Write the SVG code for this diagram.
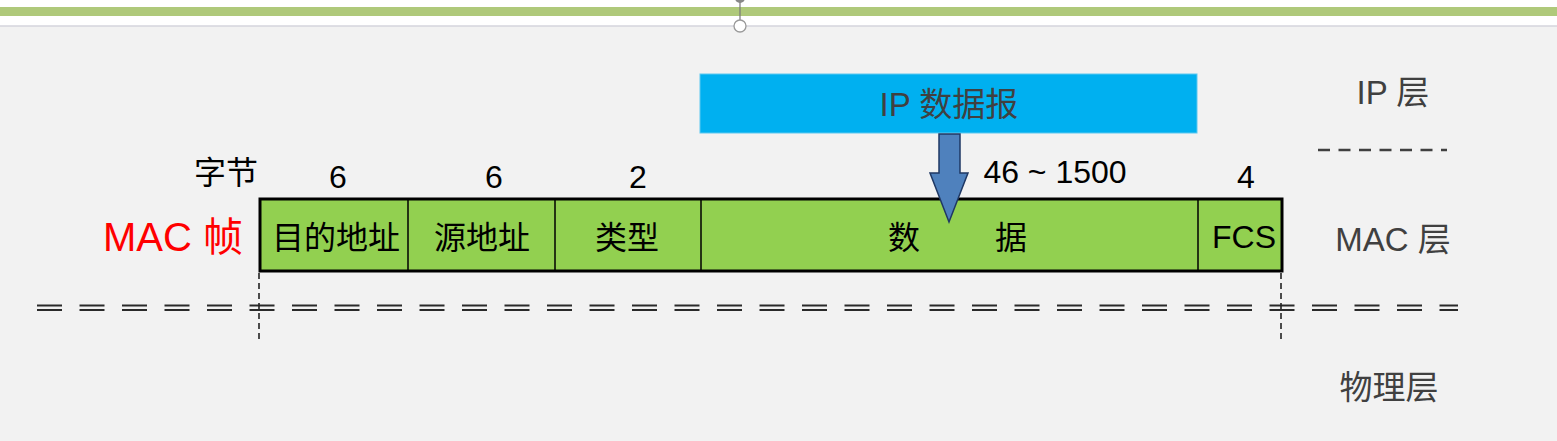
<svg xmlns="http://www.w3.org/2000/svg" width="1557" height="441" viewBox="0 0 1557 441">
  <style>
    .t { font-family: "Liberation Sans", "Noto Sans CJK SC", sans-serif; }
    .lbl { font-size: 32px; fill: #000; text-anchor: middle; }
    .layer { font-size: 33px; fill: #404040; text-anchor: middle; }
    .div { stroke: #000; stroke-width: 1.5; }
    .vdash { stroke: #222; stroke-width: 1.6; stroke-dasharray: 6 4; fill: none; }
  </style>
  <rect x="0" y="0" width="1557" height="441" fill="#f2f2f2"/>
  <rect x="0" y="0" width="1557" height="26" fill="#ffffff"/>
  <rect x="0" y="7" width="1557" height="9" fill="#afc97a"/>
  <line x1="0" y1="26" x2="1557" y2="26" stroke="#d4d4dc" stroke-width="1.5"/>
  <g id="handle">
    <line x1="740" y1="0" x2="740" y2="20" stroke="#777" stroke-width="1.2"/>
    <circle cx="740" cy="-2" r="5" fill="#888"/>
    <circle cx="740" cy="26" r="6" fill="#fff" stroke="#999" stroke-width="1.3"/>
  </g>

  <g id="ip-datagram">
    <rect x="700" y="74" width="497" height="59" fill="#00b0f0" stroke="#5cc8f0" stroke-width="1"/>
    <text class="t layer" x="949" y="116" font-size="34">IP 数据报</text>
  </g>

  <g id="mac-frame">
    <rect x="260" y="199" width="1022" height="72" fill="#92d050" stroke="#000" stroke-width="3"/>
    <line class="div" x1="408" y1="199" x2="408" y2="271"/>
    <line class="div" x1="555" y1="199" x2="555" y2="271"/>
    <line class="div" x1="701" y1="199" x2="701" y2="271"/>
    <line class="div" x1="1198" y1="199" x2="1198" y2="271"/>
    <text class="t lbl" x="336" y="249">目的地址</text>
    <text class="t lbl" x="482" y="249">源地址</text>
    <text class="t lbl" x="627" y="249">类型</text>
    <text class="t lbl" x="904" y="249">数</text>
    <text class="t lbl" x="1011" y="249">据</text>
    <text class="t lbl" x="1244" y="248">FCS</text>
  </g>

  <g id="byte-labels">
    <text class="t lbl" x="226" y="184" font-size="33">字节</text>
    <text class="t lbl" x="338" y="188">6</text>
    <text class="t lbl" x="494" y="188">6</text>
    <text class="t lbl" x="638" y="188">2</text>
    <text class="t lbl" x="1055" y="183">46 ~ 1500</text>
    <text class="t lbl" x="1246" y="188">4</text>
  </g>

  <g id="mac-frame-label">
    <text class="t" x="103" y="251" font-size="40" fill="#ff0000">MAC 帧</text>
  </g>

  <g id="layers">
    <text class="t layer" x="1393" y="104">IP 层</text>
    <text class="t layer" x="1393" y="251">MAC 层</text>
    <text class="t layer" x="1389" y="399">物理层</text>
  </g>

  <g id="connectors">
    <path d="M939,134 L960,134 L960,173 L968,173 L949,222 L930,173 L939,173 Z" fill="#4f81bd" stroke="#1f3864" stroke-width="1.5" stroke-linejoin="miter"/>
    <line x1="1318" y1="150" x2="1447" y2="150" stroke="#404040" stroke-width="2.6" stroke-dasharray="12 8.5"/>
    <g stroke="#2a2a2a" stroke-width="2" stroke-dasharray="25 17.5">
      <line x1="37" y1="305.5" x2="1458" y2="305.5"/>
      <line x1="37" y1="310" x2="1458" y2="310"/>
    </g>
    <line class="vdash" x1="259" y1="273" x2="259" y2="343"/>
    <line class="vdash" x1="1281" y1="273" x2="1281" y2="343"/>
  </g>
</svg>
